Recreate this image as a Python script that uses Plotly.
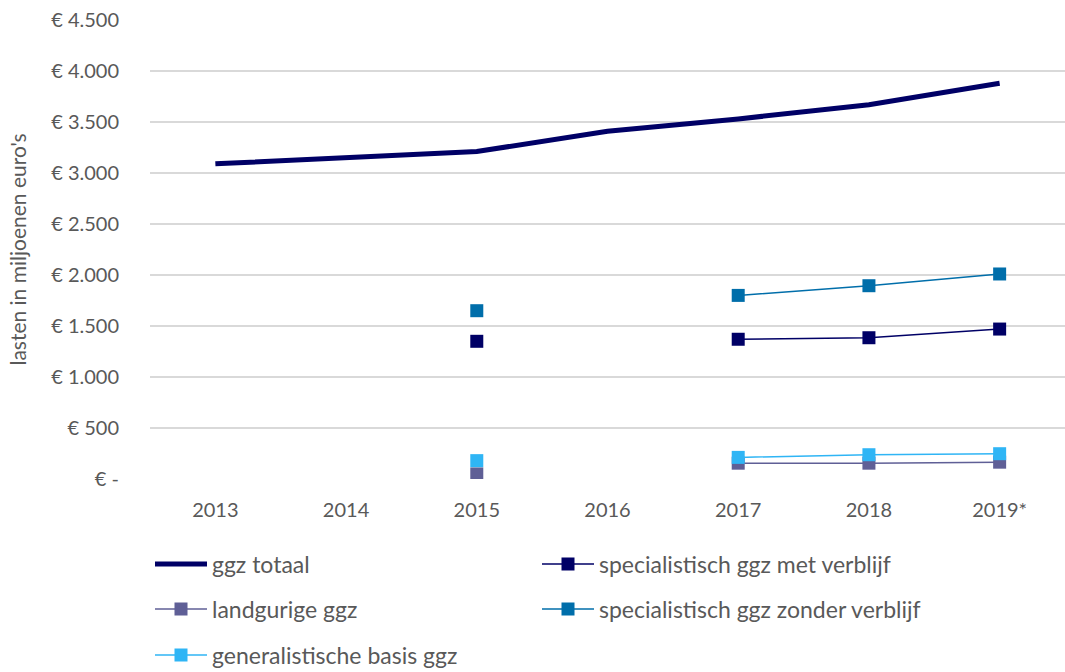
import plotly.graph_objects as go

years = ["2013", "2014", "2015", "2016", "2017", "2018", "2019*"]
ggz_totaal = [3090, 3150, 3210, 3410, 3530, 3670, 3880]
spec_met = [None, None, 1350, None, 1370, 1385, 1470]
landgurig = [None, None, 50, None, 155, 155, 165]
spec_zonder = [None, None, 1650, None, 1800, 1895, 2010]
generalistisch = [None, None, 180, None, 212, 238, 248]

tick_vals = [0, 500, 1000, 1500, 2000, 2500, 3000, 3500, 4000, 4500]
tick_text = ["€ -", "€ 500", "€ 1.000", "€ 1.500", "€ 2.000", "€ 2.500",
             "€ 3.000", "€ 3.500", "€ 4.000", "€ 4.500"]

FONT = "Lato"
GREY = "#595959"

W, H = 1065, 672
L, R, T, B = 150, 0, 20, 193
pw, ph = W - L - R, H - T - B

def px(x):
    return (x - L) / pw

def py(y):
    return (H - B - y) / ph

fig = go.Figure()

series = [
    ("ggz totaal", ggz_totaal, "#000066", 5, False),
    ("specialistisch ggz met verblijf", spec_met, "#000066", 1.5, True),
    ("landgurige ggz", landgurig, "#5f5f96", 1.5, True),
    ("specialistisch ggz zonder verblijf", spec_zonder, "#006eaa", 1.5, True),
    ("generalistische basis ggz", generalistisch, "#2fb5f5", 1.5, True),
]
legend_pos = [(150, 564), (537, 564), (150, 609), (537, 609), (150, 655)]

for i, (name, vals, col, lw, mk) in enumerate(series):
    lname = "legend" if i == 0 else f"legend{i+1}"
    fig.add_trace(go.Scatter(
        x=years, y=vals, name=name,
        mode="lines+markers" if mk else "lines",
        line=dict(color=col, width=lw),
        marker=dict(symbol="square", size=13, color=col) if mk else None,
        connectgaps=False,
        legend=lname,
    ))

legends = {}
for i, (lx, ly) in enumerate(legend_pos):
    lname = "legend" if i == 0 else f"legend{i+1}"
    legends[lname] = dict(
        x=px(lx), y=py(ly), xanchor="left", yanchor="middle",
        orientation="h", itemwidth=52,
        font=dict(family=FONT, size=23, color=GREY),
        bgcolor="rgba(0,0,0,0)", borderwidth=0,
    )

fig.update_layout(
    width=W, height=H,
    margin=dict(l=L, r=R, t=T, b=B, autoexpand=False),
    paper_bgcolor="white", plot_bgcolor="white",
    font=dict(family=FONT, size=20, color=GREY),
    showlegend=True,
    **legends,
)

fig.update_xaxes(
    type="category", range=[-0.5, 6.5],
    showgrid=False, showline=False, zeroline=False,
    ticks="", ticklabelstandoff=17, automargin=False,
    tickfont=dict(family=FONT, size=20, color=GREY),
)
fig.update_yaxes(
    range=[0, 4500], tickvals=tick_vals, ticktext=tick_text,
    showgrid=True, gridcolor="#d9d9d9", gridwidth=1.5, automargin=False,
    zeroline=False, showline=False, ticks="", ticklabelstandoff=30,
    tickfont=dict(family=FONT, size=20, color=GREY),
    title=dict(text="lasten in miljoenen euro's", standoff=18,
               font=dict(family=FONT, size=21, color=GREY)),
)

fig.write_html(
    "out.html",
    config={"displayModeBar": False},
    post_script="document.body.style.margin='0';document.body.style.overflow='hidden';",
)
